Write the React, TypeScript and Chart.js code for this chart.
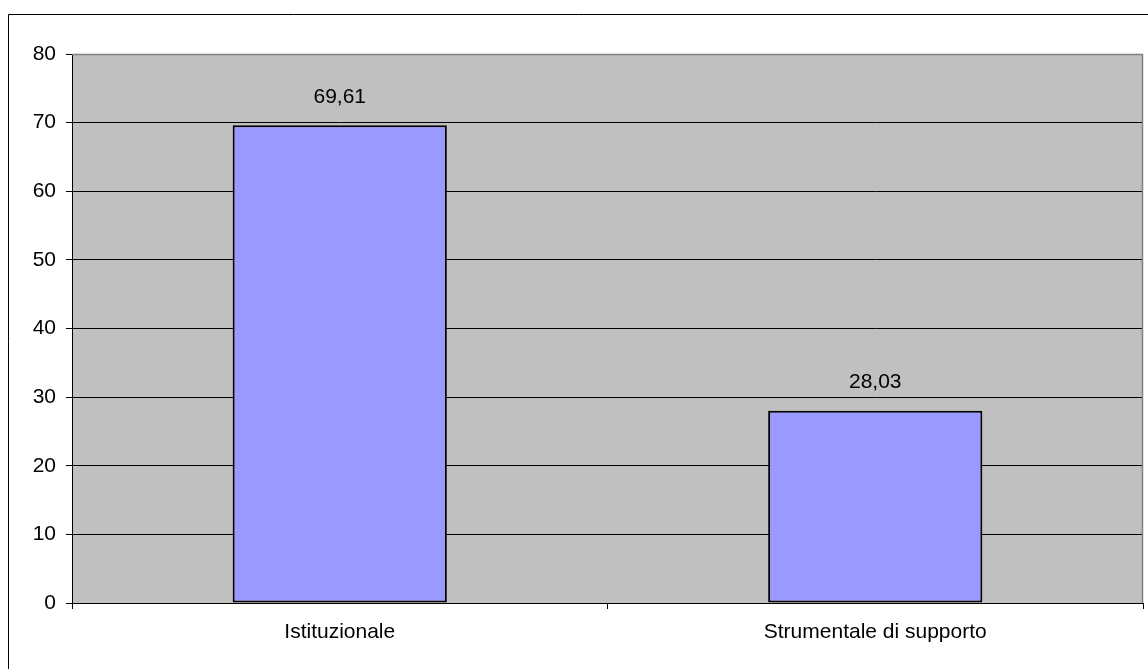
import React, { useEffect, useRef } from "react";
import { Chart, registerables } from "chart.js";

Chart.register(...registerables);

const categories = ["Istituzionale", "Strumentale di supporto"];
const values = [69.61, 28.03];
const yTicks = [0, 10, 20, 30, 40, 50, 60, 70, 80];

const FONT = "'Liberation Sans', Arial, sans-serif";

export default function App() {
  const ref = useRef<HTMLCanvasElement | null>(null);

  useEffect(() => {
    if (!ref.current) return;
    const bgPlugin = {
      id: "bgPlugin",
      beforeDraw(chart: any) {
        const { ctx, chartArea } = chart;
        ctx.save();
        ctx.fillStyle = "#ffffff";
        ctx.fillRect(0, 0, chart.width, chart.height);
        ctx.fillStyle = "#C0C0C0";
        ctx.fillRect(chartArea.left, chartArea.top, chartArea.right - chartArea.left, chartArea.bottom - chartArea.top);
        ctx.strokeStyle = "#000000";
        ctx.lineWidth = 1;
        ctx.beginPath();
        ctx.moveTo(8.5, chart.height);
        ctx.lineTo(8.5, 14.5);
        ctx.lineTo(chart.width, 14.5);
        ctx.stroke();
        ctx.restore();
      },
      afterDatasetsDraw(chart: any) {
        const { ctx, chartArea } = chart;
        ctx.save();
        ctx.strokeStyle = "#808080";
        ctx.lineWidth = 1.5;
        ctx.beginPath();
        ctx.moveTo(chartArea.left, chartArea.top + 0.5);
        ctx.lineTo(chartArea.right - 0.5, chartArea.top + 0.5);
        ctx.lineTo(chartArea.right - 0.5, chartArea.bottom);
        ctx.stroke();
        const meta = chart.getDatasetMeta(0);
        ctx.fillStyle = "#000000";
        ctx.font = `21px ${FONT}`;
        ctx.textAlign = "center";
        ctx.textBaseline = "middle";
        meta.data.forEach((bar: any, i: number) => {
          const v = values[i];
          ctx.fillText(v.toFixed(2).replace(".", ","), bar.x, bar.y - 28);
        });
        ctx.restore();
      },
    };

    const chart = new Chart(ref.current, {
      type: "bar",
      data: {
        labels: categories,
        datasets: [
          {
            data: values,
            backgroundColor: "#9999FF",
            borderColor: "#000000",
            borderWidth: 2,
            borderSkipped: false,
            barPercentage: 0.4,
            categoryPercentage: 1,
          },
        ],
      },
      options: {
        animation: false,
        responsive: true,
        maintainAspectRatio: false,
        layout: { padding: { top: 54, right: 5, left: 0, bottom: 0 } },
        plugins: { legend: { display: false }, tooltip: { enabled: false } },
        scales: {
          x: {
            offset: true,
            afterFit(scale: any) {
              scale.height = 66;
            },
            grid: {
              offset: true,
              drawOnChartArea: false,
              drawTicks: true,
              tickLength: 6,
              tickColor: "#000000",
              color: "#000000",
            },
            border: { display: true, color: "#000000", width: 1 },
            ticks: {
              color: "#000000",
              font: { family: FONT, size: 21 },
              padding: 11,
              maxRotation: 0,
            },
          },
          y: {
            min: 0,
            max: 80,
            afterFit(scale: any) {
              scale.width = 72;
            },
            afterBuildTicks(scale: any) {
              scale.ticks = yTicks.map((v) => ({ value: v }));
            },
            grid: {
              color: "#000000",
              lineWidth: 1,
              tickLength: 6,
              tickColor: "#000000",
            },
            border: { display: true, color: "#000000", width: 1 },
            ticks: {
              color: "#000000",
              font: { family: FONT, size: 21 },
              padding: 10,
              stepSize: 10,
            },
          },
        },
      },
      plugins: [bgPlugin],
    } as any);
    return () => chart.destroy();
  }, []);

  return (
    <div style={{ position: "fixed", left: 0, top: 0, width: 1148, height: 669, background: "#fff" }}>
      <canvas ref={ref} />
    </div>
  );
}
